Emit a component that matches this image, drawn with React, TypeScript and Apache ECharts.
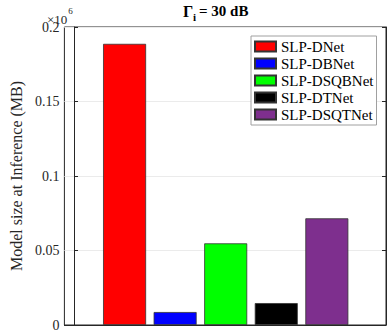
import React, { useEffect, useRef } from "react";
import * as echarts from "echarts";

const seriesNames = ["SLP-DNet", "SLP-DBNet", "SLP-DSQBNet", "SLP-DTNet", "SLP-DSQTNet"];
const modelSizes = [188700, 8700, 54800, 14700, 71600];
const barPositions = [1, 2, 3, 4, 5];
const barColors = ["#ff0000", "#0000ff", "#00ff00", "#000000", "#7e2f8e"];
const yMin = 0;
const yMax = 200000;
const yInterval = 50000;
const yLabel = "Model size at Inference (MB)";

const FONT = "'Liberation Serif', 'Times New Roman', serif";
const AXIS_COLOR = "#262626";

export default function App() {
  const ref = useRef<HTMLDivElement>(null);

  useEffect(() => {
    if (!ref.current) return;
    const chart = echarts.init(ref.current, undefined, { renderer: "svg" });

    const series = seriesNames.map((name, i) => ({
      name,
      type: "bar",
      barWidth: 43,
      barGap: "-100%",
      yAxisIndex: 0,
      data: [[barPositions[i], modelSizes[i]]],
      itemStyle: { color: barColors[i], borderColor: "#333333", borderWidth: 0.8 },
    }));

    chart.setOption({
      animation: false,
      textStyle: { fontFamily: FONT },
      grid: {
        left: 46,
        right: 2,
        top: 27,
        bottom: 6,
        show: true,
        borderColor: AXIS_COLOR,
        borderWidth: 1,
        backgroundColor: "#ffffff",
      },
      xAxis: {
        type: "value",
        min: -0.19,
        max: 6.17,
        axisLine: { show: true, lineStyle: { color: AXIS_COLOR } },
        axisTick: { show: false },
        axisLabel: { show: false },
        splitLine: { show: false },
      },
      yAxis: [
        {
          type: "value",
          min: yMin,
          max: yMax,
          interval: yInterval,
          position: "left",
          name: yLabel,
          nameLocation: "middle",
          nameGap: 28,
          nameTextStyle: { fontFamily: FONT, fontSize: 16, color: AXIS_COLOR },
          axisLine: { show: true, lineStyle: { color: AXIS_COLOR } },
          axisTick: { show: true, inside: true, length: 4, lineStyle: { color: AXIS_COLOR } },
          axisLabel: {
            fontFamily: FONT,
            fontSize: 14,
            color: AXIS_COLOR,
            margin: 5,
            formatter: (v: number) => String(Number((v / 1e6).toFixed(4))),
          },
          splitLine: { show: true, lineStyle: { color: "#ebebeb", width: 1 } },
        },
        {
          type: "value",
          min: yMin,
          max: yMax,
          interval: yInterval,
          position: "right",
          axisLine: { show: true, lineStyle: { color: AXIS_COLOR } },
          axisTick: { show: true, inside: true, length: 4, lineStyle: { color: AXIS_COLOR } },
          axisLabel: { show: false },
          splitLine: { show: false },
        },
      ],
      legend: {
        orient: "vertical",
        left: 251,
        top: 36,
        padding: [3, 3, 3, 3],
        itemGap: 2,
        itemWidth: 21,
        itemHeight: 10,
        icon: "rect",
        borderColor: "#a0a0a0",
        borderWidth: 1,
        backgroundColor: "#ffffff",
        textStyle: { fontFamily: FONT, fontSize: 15, color: "#000000", lineHeight: 15 },
        data: seriesNames,
      },
      graphic: [
        {
          type: "text",
          x: 183,
          y: 3,
          style: { text: "Γ", font: `bold 16px ${FONT}`, fill: "#000" },
        },
        {
          type: "text",
          x: 193,
          y: 11,
          style: { text: "i", font: `bold 11px ${FONT}`, fill: "#000" },
        },
        {
          type: "text",
          x: 199,
          y: 3,
          style: { text: "= 30 dB", font: `bold 15px ${FONT}`, fill: "#000" },
        },
        {
          type: "text",
          x: 47,
          y: 6,
          style: {
            text: "{b|×10}{s|6}",
            rich: {
              b: { fontFamily: FONT, fontSize: 13, fill: AXIS_COLOR, verticalAlign: "bottom", lineHeight: 20 },
              s: { fontFamily: FONT, fontSize: 9, fill: AXIS_COLOR, verticalAlign: "top", lineHeight: 20, padding: [0, 0, 0, 1] },
            },
          },
        },
      ],
      series,
    });

    return () => chart.dispose();
  }, []);

  return (
    <div
      ref={ref}
      style={{ position: "fixed", left: 0, top: 0, width: 388, height: 332, background: "#fff" }}
    />
  );
}
